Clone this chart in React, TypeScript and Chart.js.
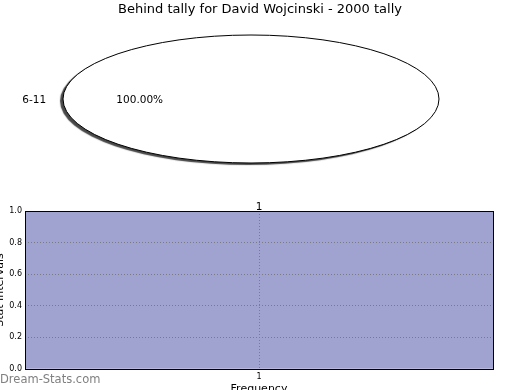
import React, { useEffect, useRef } from "react";
import { Chart, registerables } from "chart.js";

Chart.register(...registerables);

const chartTitle = "Behind tally for David Wojcinski - 2000 tally";
const pieLabels = ["6-11"];
const pieValues = [1];
const barCategories = ["1"];
const barValues = [1];
const yTicks = [0, 0.2, 0.4, 0.6, 0.8, 1.0];
const watermark = "Dream-Stats.com";

const FONT = "'DejaVu Sans', sans-serif";
const SX = 188 / 64;

const pieShapePlugin = {
  id: "pieShape",
  beforeDatasetsDraw(chart: any) {
    const arc = chart.getDatasetMeta(0).data[0];
    const ctx = chart.ctx;
    ctx.save();
    if (!arc) return;
    ctx.translate(arc.x, arc.y);
    ctx.scale(SX, 1);
    ctx.translate(-arc.x, -arc.y);
    ctx.shadowColor = "rgba(40,40,40,0.85)";
    ctx.shadowOffsetX = -3;
    ctx.shadowOffsetY = 2;
    ctx.shadowBlur = 1;
  },
  afterDatasetsDraw(chart: any) {
    const ctx = chart.ctx;
    ctx.restore();
    ctx.save();
    ctx.fillStyle = "#000";
    ctx.font = `13px ${FONT}`;
    ctx.textAlign = "center";
    ctx.textBaseline = "middle";
    ctx.fillText(chartTitle, 260, 10);
    ctx.restore();
    const meta = chart.getDatasetMeta(0);
    const total = pieValues.reduce((a, b) => a + b, 0);
    meta.data.forEach((arc: any, i: number) => {
      const rx = arc.outerRadius * SX;
      const ry = arc.outerRadius;
      ctx.save();
      ctx.beginPath();
      ctx.ellipse(arc.x, arc.y, rx, ry, 0, 0, Math.PI * 2);
      ctx.lineWidth = 1;
      ctx.strokeStyle = "#000";
      ctx.stroke();
      const mid = (arc.startAngle + arc.endAngle) / 2;
      ctx.fillStyle = "#000";
      ctx.font = `10.5px ${FONT}`;
      ctx.textBaseline = "middle";
      const lx = arc.x + Math.cos(mid) * rx * 1.1 + 2;
      const ly = arc.y + Math.sin(mid) * ry * 1.1 + 1;
      ctx.textAlign = Math.cos(mid) < 0 ? "right" : "left";
      ctx.fillText(pieLabels[i], lx, ly);
      const px = arc.x + Math.cos(mid) * rx * 0.6 + 1.5;
      const py = arc.y + Math.sin(mid) * ry * 0.6 + 1;
      ctx.textAlign = "center";
      const pct = ((pieValues[i] / total) * 100).toFixed(2) + "%";
      ctx.fillText(pct, px, py);
      ctx.restore();
    });
  },
};

const barExtrasPlugin = {
  id: "barExtras",
  afterDraw(chart: any) {
    const ctx = chart.ctx;
    const { left, top, right, bottom } = chart.chartArea;
    ctx.save();
    ctx.strokeStyle = "#000";
    ctx.lineWidth = 1;
    ctx.strokeRect(Math.round(left) + 0.5, Math.round(top) + 0.5, Math.round(right - left), Math.round(bottom - top));
    const meta = chart.getDatasetMeta(0);
    ctx.fillStyle = "#000";
    ctx.font = `10.5px ${FONT}`;
    ctx.textAlign = "center";
    ctx.textBaseline = "alphabetic";
    meta.data.forEach((bar: any, i: number) => {
      ctx.fillText(String(barValues[i]), bar.x, bar.y - 1);
    });
    ctx.fillStyle = "#808080";
    ctx.font = `11.5px ${FONT}`;
    ctx.textAlign = "left";
    ctx.textBaseline = "middle";
    ctx.fillText(watermark, 6, 190);
    ctx.restore();
  },
};

export default function App() {
  const pieRef = useRef<HTMLCanvasElement>(null);
  const barRef = useRef<HTMLCanvasElement>(null);

  useEffect(() => {
    const pie = new Chart(pieRef.current!, {
      type: "pie",
      data: {
        labels: pieLabels,
        datasets: [
          {
            data: pieValues,
            backgroundColor: ["#ffffff"],
            borderWidth: 0,
          },
        ],
      },
      options: {
        responsive: false,
        animation: false,
        rotation: 90,
        layout: { padding: { top: 35, bottom: 27, left: 2, right: 20 } },
        plugins: {
          legend: { display: false },
          tooltip: { enabled: false },
          title: { display: false },
        },
      },
      plugins: [pieShapePlugin],
    } as any);

    const bar = new Chart(barRef.current!, {
      type: "bar",
      data: {
        labels: barCategories,
        datasets: [
          {
            data: barValues,
            backgroundColor: "#a0a2d0",
            borderWidth: 0,
            barPercentage: 1,
            categoryPercentage: 1,
          },
        ],
      },
      options: {
        responsive: false,
        animation: false,
        layout: { padding: { top: 21, right: 27, left: 0, bottom: 0 } },
        plugins: {
          legend: { display: false },
          tooltip: { enabled: false },
        },
        scales: {
          x: {
            afterFit: (s: any) => {
              s.height = 31;
            },
            grid: {
              z: 1,
              offset: false,
              drawTicks: false,
              color: "#7a7a88",
              lineWidth: 1,
            },
            border: { display: false, dash: [1, 2] },
            ticks: {
              color: "#000",
              font: { family: FONT, size: 8 },
              padding: 3,
            },
            title: {
              display: true,
              text: "Frequency",
              color: "#000",
              font: { family: FONT, size: 11 },
              padding: { top: 0, bottom: 4 },
            },
          },
          y: {
            min: 0,
            max: 1,
            afterFit: (s: any) => {
              s.width = 31;
            },
            afterBuildTicks: (s: any) => {
              s.ticks = yTicks.map((v) => ({ value: v }));
            },
            grid: {
              z: 1,
              drawTicks: false,
              color: "#7a7a88",
              lineWidth: 1,
            },
            border: { display: false, dash: [1, 2] },
            ticks: {
              color: "#000",
              font: { family: FONT, size: 8 },
              padding: 3,
              callback: (v: any) => Number(v).toFixed(1),
            },
            title: {
              display: true,
              text: "Stat Intervals",
              color: "#000",
              font: { family: FONT, size: 11 },
              padding: { top: 0, bottom: 0 },
            },
          },
        },
      },
      plugins: [barExtrasPlugin],
    } as any);

    return () => {
      pie.destroy();
      bar.destroy();
    };
  }, []);

  return (
    <div
      style={{
        position: "absolute",
        left: 0,
        top: 0,
        width: 520,
        height: 390,
        overflow: "hidden",
        background: "#fff",
      }}
    >
      <canvas
        ref={pieRef}
        width={520}
        height={190}
        style={{ position: "absolute", left: 0, top: 0, width: 520, height: 190 }}
      />
      <canvas
        ref={barRef}
        width={526}
        height={210}
        style={{ position: "absolute", left: -6, top: 190, width: 526, height: 210 }}
      />
    </div>
  );
}
